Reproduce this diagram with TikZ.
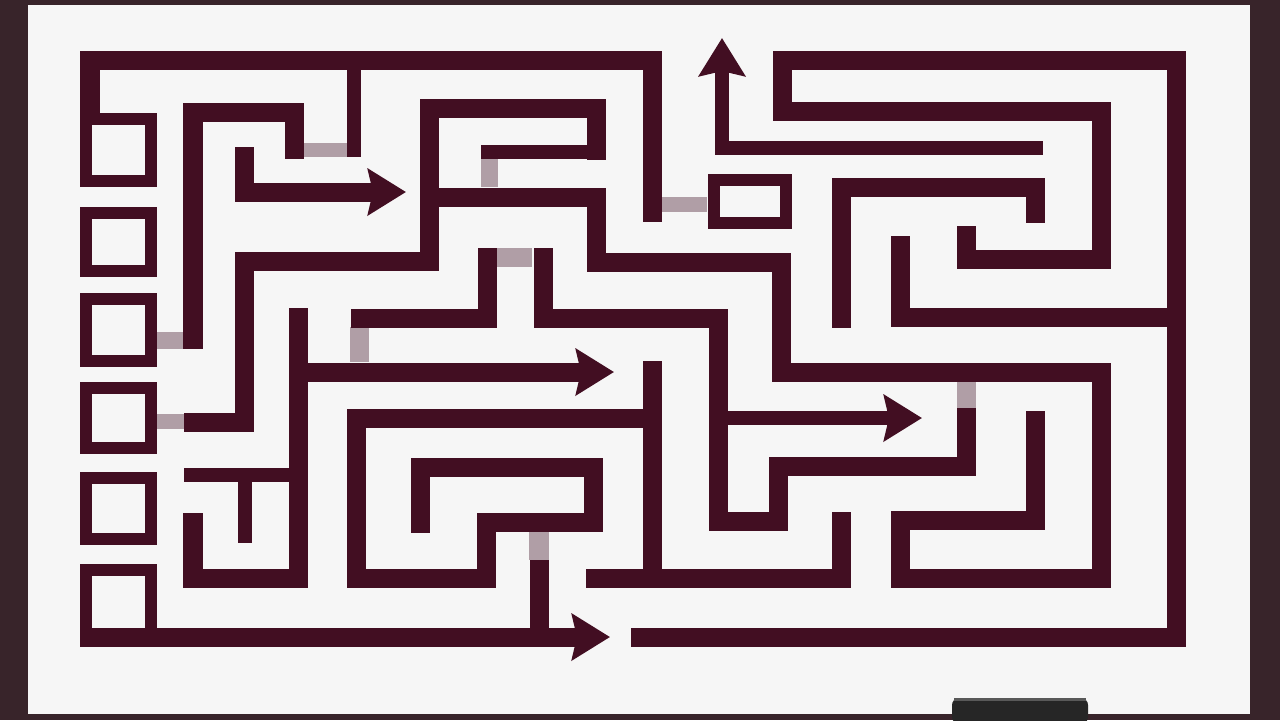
\documentclass[tikz,border=0pt]{standalone}
\usepackage{tikz}
\usetikzlibrary{arrows.meta}
\definecolor{mazered}{RGB}{66,14,34}
\definecolor{bridgegray}{RGB}{176,158,166}
\definecolor{framebrown}{RGB}{56,36,42}
\definecolor{boardwhite}{RGB}{246,246,246}
\tikzset{
  wall/.style={draw=mazered, line width=0.19cm, line cap=rect, line join=miter},
  slim/.style={draw=mazered, line width=0.14cm, line cap=rect, line join=miter},
  boxwall/.style={draw=mazered, line width=0.12cm, line join=miter},
  bridge/.style={fill=bridgegray},
  headed/.style={-{Stealth[length=0.38cm, width=0.46cm, inset=0.05cm]}}
}

\begin{document}
\begin{tikzpicture}[x=0.01cm, y=-0.01cm]
	\useasboundingbox (0,0) rectangle (1280,720);
	\fill[framebrown] (0,0) rectangle (1280,720);
	\fill[boardwhite] (28,5) rectangle (1250,714);
	\fill[black!85, rounded corners=2pt] (952,698) rectangle (1088,724);
	\fill[gray!70!black] (954,698) rectangle (1086,701);

	\fill[bridge] (303,143) rectangle (347,157);
	\fill[bridge] (157,332) rectangle (184,349);
	\fill[bridge] (481,159) rectangle (498,187);
	\fill[bridge] (157,414) rectangle (184,429);
	\fill[bridge] (662,197) rectangle (707,212);
	\fill[bridge] (496,248) rectangle (532,267);
	\fill[bridge] (350,327) rectangle (369,362);
	\fill[bridge] (957,382) rectangle (976,408);
	\fill[bridge] (529,532) rectangle (549,560);

	\draw[boxwall] (86,119) rectangle (151,181);
	\draw[boxwall] (86,213) rectangle (151,271);
	\draw[boxwall] (86,299) rectangle (151,361);
	\draw[boxwall] (86,388) rectangle (151,448);
	\draw[boxwall] (86,478) rectangle (151,539);
	\draw[boxwall] (151,630) -- (151,570) -- (86,570) -- (86,641);

	\draw[wall] (90,110) -- (90,60) -- (652,60) -- (652,212);
	\draw[slim] (354,60) -- (354,150);
	\draw[wall] (294,149) -- (294,112) -- (193,112) -- (193,339);
	\draw[wall, headed] (244,156) -- (244,192) -- (406,192);
	\draw[slim] (488,152) -- (596,152);
	\draw[wall] (596,150) -- (596,108) -- (429,108) -- (429,261) -- (244,261) -- (244,422) -- (193.5,422);
	\draw[wall] (429,197) -- (596,197) -- (596,262) -- (781,262) -- (781,372) -- (1101,372) -- (1101,578) -- (900,578) -- (900,520) -- (1035,520) -- (1035,420);
	\draw[wall] (966,235) -- (966,259) -- (1101,259) -- (1101,111) -- (782,111) -- (782,60) -- (1176,60) -- (1176,637) -- (640,637);
	\draw[slim, headed] (1036,148) -- (722,148) -- (722,38);
	\draw[boxwall] (713.5,179.5) rectangle (785.5,222.5);
	\draw[wall] (841,318) -- (841,187) -- (1035,187) -- (1035,213);
	\draw[wall] (900,245) -- (900,317) -- (1176,317);
	\draw[wall] (487,257) -- (487,318) -- (360,318);
	\draw[wall] (543,257) -- (543,318) -- (718,318) -- (718,521) -- (778,521) -- (778,466) -- (966,466) -- (966,417);
	\draw[slim, headed] (718,418) -- (922,418);
	\draw[wall, headed] (298,372) -- (614,372);
	\draw[wall] (298,317) -- (298,578) -- (193,578) -- (193,522);
	\draw[slim] (191,475) -- (298,475);
	\draw[slim] (245,475) -- (245,536);
	\draw[wall] (652,418) -- (356,418) -- (356,578) -- (486,578) -- (486,522) -- (593,522) -- (593,467) -- (420,467) -- (420,523);
	\draw[wall] (652,370) -- (652,578);
	\draw[wall] (841,521) -- (841,578) -- (595,578);
	\draw[wall] (539,569) -- (539,637);
	\draw[wall, headed] (90,637) -- (610,637);
\end{tikzpicture}
\end{document}
